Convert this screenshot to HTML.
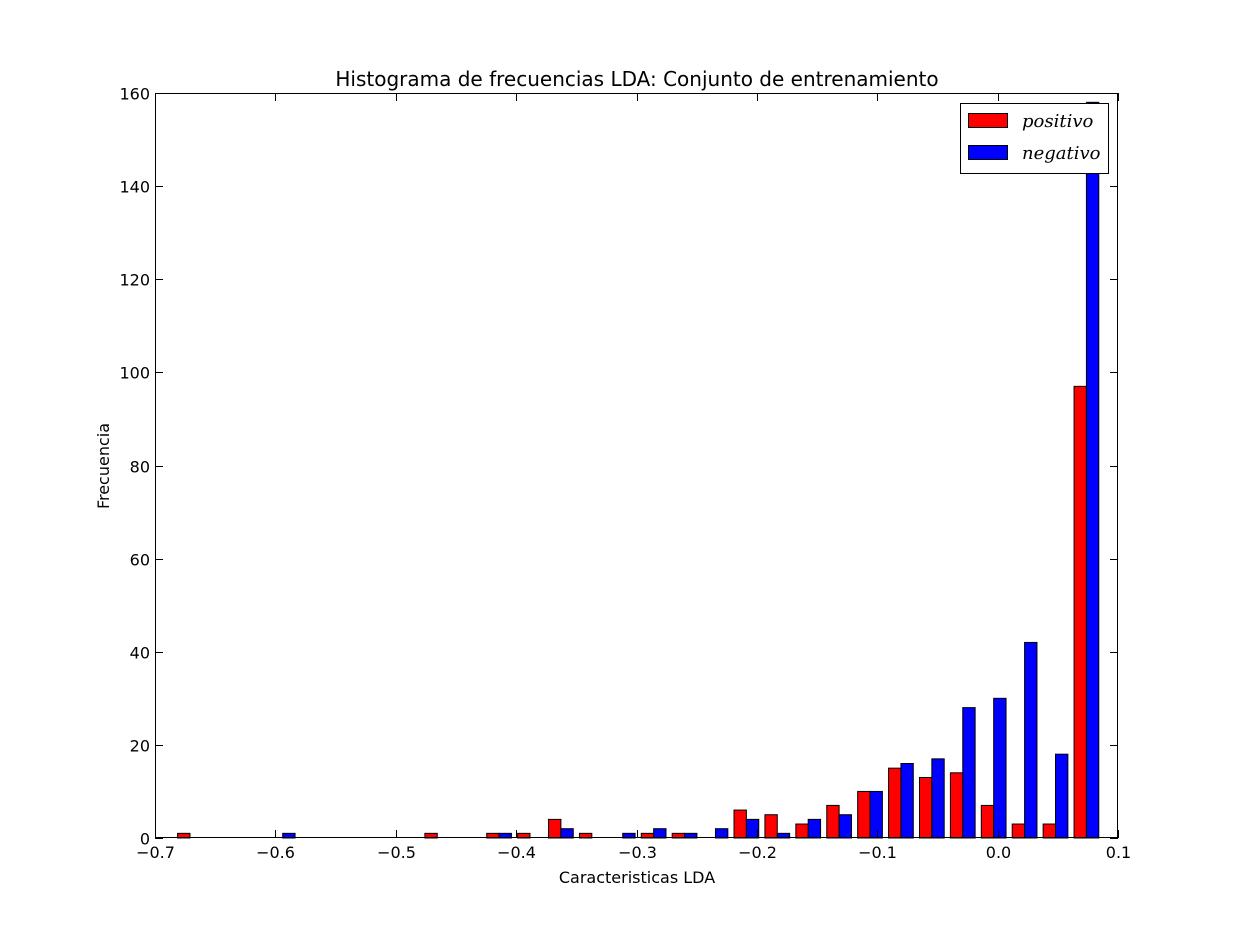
<!DOCTYPE html>
<html><head><meta charset="utf-8"><style>
body{margin:0;background:#fff}
svg text{font-family:"DejaVu Sans","Liberation Sans",sans-serif;fill:#000}
</style></head><body>
<svg width="1242" height="931" xmlns="http://www.w3.org/2000/svg" id="chart">
<rect x="0" y="0" width="1242" height="931" fill="#fff"/>
<text x="637" y="86" font-size="20" text-anchor="middle">Histograma de frecuencias LDA: Conjunto de entrenamiento</text>
<g id="bars"></g>
<g id="axes"></g>
<text x="637" y="883" font-size="16" text-anchor="middle">Caracteristicas LDA</text>
<text x="109" y="466" font-size="16" text-anchor="middle" transform="rotate(-90 109 466)">Frecuencia</text>
<g>
<rect x="960.5" y="103.5" width="148" height="70" fill="#fff" stroke="#000"/>
<rect x="968.5" y="113.5" width="39" height="14" fill="#f00" stroke="#000"/>
<text x="1022" y="127" font-size="18" font-style="italic" style="font-family:'DejaVu Serif','Liberation Serif',serif">positivo</text>
<rect x="968.5" y="145.5" width="39" height="14" fill="#00f" stroke="#000"/>
<text x="1022" y="159" font-size="18" font-style="italic" style="font-family:'DejaVu Serif','Liberation Serif',serif">negativo</text>
</g>
</svg>
<script>
const binStart = -0.6838;
const binWidth = 0.02568;
const positivo = [1,0,0,0,0,0,0,0,1,0,1,1,4,1,0,1,1,0,6,5,3,7,10,15,13,14,7,3,3,97];
const negativo = [0,0,0,1,0,0,0,0,0,0,1,0,2,0,1,2,1,2,4,1,4,5,10,16,17,28,30,42,18,158];
const xTicks = [-0.7,-0.6,-0.5,-0.4,-0.3,-0.2,-0.1,0.0,0.1];
const xTickLabels = ["\u22120.7","\u22120.6","\u22120.5","\u22120.4","\u22120.3","\u22120.2","\u22120.1","0.0","0.1"];
const yTicks = [0,20,40,60,80,100,120,140,160];

const L=155,R=1118,T=93,B=838;
const xs=v=>L+(v+0.7)/0.8*(R-L);
const ys=v=>B-v/160*(B-T);
const NS="http://www.w3.org/2000/svg";
const bars=document.getElementById('bars'), axes=document.getElementById('axes');
function mk(tag,attrs,parent){const e=document.createElementNS(NS,tag);for(const k in attrs)e.setAttribute(k,attrs[k]);parent.appendChild(e);return e;}
const series=[[positivo,'#f00','positivo'],[negativo,'#00f','negativo']];
series.forEach((s,si)=>{
  s[0].forEach((v,i)=>{
    const b0=binStart+i*binWidth;
    const x0=xs(b0+binWidth*(0.1+0.4*si)), x1=xs(b0+binWidth*(0.1+0.4*(si+1)));
    const r=mk('rect',{x:x0,y:ys(v),width:x1-x0,height:Math.max(0,B-ys(v)),fill:s[1],stroke:'#000','stroke-width':1},bars);
    
    
  });
});
const frame=mk('rect',{x:L+0.5,y:T+0.5,width:R-L-1,height:B-T-1,fill:'none',stroke:'#000'},axes);


xTicks.forEach((t,i)=>{
  const x=Math.round(xs(t))+0.5;
  mk('line',{x1:x,x2:x,y1:B,y2:B-8,stroke:'#000'},axes);
  mk('line',{x1:x,x2:x,y1:T,y2:T+8,stroke:'#000'},axes);
  const tx=mk('text',{x:x,y:B+20,'font-size':16,'text-anchor':'middle'},axes);
  tx.textContent=xTickLabels[i];
  
  
});
yTicks.forEach(t=>{
  const y=Math.round(ys(t))+0.5;
  mk('line',{x1:L,x2:L+8,y1:y,y2:y,stroke:'#000'},axes);
  mk('line',{x1:R,x2:R-8,y1:y,y2:y,stroke:'#000'},axes);
  const tx=mk('text',{x:L-5,y:y+6,'font-size':16,'text-anchor':'end'},axes);
  tx.textContent=String(t);
  
  
});
</script>
</body></html>
